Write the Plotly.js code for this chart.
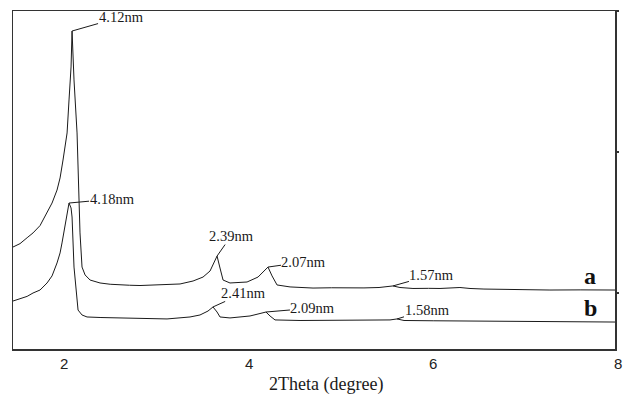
<!DOCTYPE html>
<html>
<head>
<meta charset="utf-8">
<script src="https://cdn.plot.ly/plotly-3.0.1.min.js"></script>
<style>html,body{margin:0;padding:0;background:#fff;}#chart{width:624px;height:403px;}</style>
</head>
<body>
<div id="chart"></div>
<script>
// 2Theta (degree) and intensity (a.u.) for sample a
const twoThetaA = [1.447,1.523,1.600,1.664,1.740,1.816,1.870,1.924,1.957,1.989,2.011,2.033,2.054,2.076,2.087,2.108,2.141,2.173,2.195,2.228,2.282,2.390,2.500,2.607,2.710,2.823,2.950,3.116,3.257,3.398,3.506,3.582,3.625,3.658,3.690,3.723,3.798,3.900,3.983,4.102,4.167,4.210,4.254,4.308,4.449,4.698,4.900,5.099,5.250,5.413,5.564,5.640,5.781,5.950,6.074,6.290,6.399,6.550,6.724,7.000,7.265,7.600,7.970];
const intensityA = [1326,1350,1392,1426,1478,1567,1638,1730,1816,1943,2028,2135,2369,2603,2858,2511,2135,1426,1184,1128,1092,1071,1062,1057,1055,1053,1056,1057,1064,1085,1113,1156,1220,1262,1177,1092,1071,1075,1078,1113,1156,1184,1121,1057,1043,1035,1037,1035,1036,1039,1050,1039,1032,1033,1032,1039,1032,1028,1025,1024,1021,1022,1021];
// sample b
const twoThetaB = [1.447,1.523,1.600,1.664,1.740,1.816,1.870,1.924,1.957,1.978,2.011,2.033,2.054,2.076,2.087,2.108,2.130,2.152,2.195,2.249,2.400,2.574,2.850,3.116,3.365,3.473,3.560,3.614,3.658,3.690,3.798,4.015,4.145,4.188,4.232,4.286,4.557,4.800,5.066,5.300,5.532,5.608,5.684,6.000,6.290,6.399,6.941,7.400,7.970];
const intensityB = [943,957,976,1000,1021,1071,1121,1213,1284,1355,1468,1567,1638,1603,1539,1184,1000,879,844,830,826,823,820,816,830,844,872,901,865,830,823,837,858,865,837,809,805,806,805,807,809,816,805,803,801,805,798,796,794];

const peakLabelsA = ["4.12nm","2.39nm","2.07nm","1.57nm"];
const peakPosA = [2.087,3.658,4.210,5.564];
const peakLabelsB = ["4.18nm","2.41nm","2.09nm","1.58nm"];
const peakPosB = [2.054,3.614,4.188,5.608];
const seriesNames = ["a","b"];
const xTicks = [2,4,6,8];

// label offsets (pixels) from each peak
const offA = [[49,-14],[14,-20],[36,-5],[39,-11]];
const offB = [[43,-4],[31,-14],[47,-4],[30,-9]];

function yAt(xs, ys, x){
  let best = 0, d = Infinity;
  xs.forEach((v,i)=>{ if(Math.abs(v-x)<d){d=Math.abs(v-x);best=i;} });
  return ys[best];
}

const xr = [1.447, 7.97];
const yr = [602.8, 3000];

const lineStyle = {color:'#1a1a1a', width:1};
const traces = [
  {x:twoThetaA, y:intensityA, mode:'lines', line:lineStyle, name:seriesNames[0], hoverinfo:'skip'},
  {x:twoThetaB, y:intensityB, mode:'lines', line:lineStyle, name:seriesNames[1], hoverinfo:'skip'},
  // carrier for the right-hand axis (invisible)
  {x:twoThetaA, y:intensityA, yaxis:'y2', mode:'lines', line:{width:0, color:'rgba(0,0,0,0)'}, opacity:0, hoverinfo:'skip', showlegend:false}
];

const labelFont = {family:'"Liberation Serif", "Times New Roman", serif', size:14.5, color:'#1a1a1a'};
const annotations = [];
function addPeaks(labels, pos, xs, ys, off){
  labels.forEach((t,i)=>{
    annotations.push({x:pos[i], y:yAt(xs,ys,pos[i]), xref:'x', yref:'y', text:t,
      showarrow:true, arrowhead:0, arrowwidth:1, arrowcolor:'#1a1a1a',
      ax:off[i][0], ay:off[i][1], font:labelFont, borderpad:0});
  });
}
addPeaks(peakLabelsA, peakPosA, twoThetaA, intensityA, offA);
addPeaks(peakLabelsB, peakPosB, twoThetaB, intensityB, offB);

const endA = intensityA[intensityA.length-1];
const endB = intensityB[intensityB.length-1];
const serFont = {family:'"Liberation Serif", "Times New Roman", serif', size:24, color:'#111'};
annotations.push({x:7.7, y:endA, xref:'x', yref:'y', text:'<b>'+seriesNames[0]+'</b>', showarrow:false, font:serFont, yshift:14});
annotations.push({x:7.7, y:endB, xref:'x', yref:'y', text:'<b>'+seriesNames[1]+'</b>', showarrow:false, font:serFont, yshift:14});
annotations.push({x:0.52, y:-0.1065, xref:'paper', yref:'paper', xanchor:'center', yanchor:'middle', text:'2Theta (degree)', showarrow:false,
  font:{family:'"Liberation Serif", "Times New Roman", serif', size:18, color:'#1a1a1a'}});

const tickFont = {family:'"Liberation Sans", Arial, sans-serif', size:15, color:'#222'};
// tick labels (drawn as paper-positioned annotations so the end label "8" can sit at the frame edge)
xTicks.forEach(v=>{
  annotations.push({x:(v - xr[0])/(xr[1]-xr[0]), y:0, xref:'paper', yref:'paper', xanchor:'center', yanchor:'middle', yshift:-14,
    text:String(v), showarrow:false, font:tickFont});
});

const layout = {
  width:624, height:403,
  margin:{l:13, r:9, t:11, b:54, pad:0},
  paper_bgcolor:'#fff', plot_bgcolor:'#fff',
  showlegend:false,
  xaxis:{range:xr, showticklabels:false, ticks:'', showgrid:false, zeroline:false,
    showline:true, linecolor:'#333', linewidth:1.5, mirror:true},
  yaxis:{range:yr, showticklabels:false, ticks:'', showgrid:false, zeroline:false, showline:true, linecolor:'#333', linewidth:1.5},
  yaxis2:{range:yr, overlaying:'y', side:'right', showticklabels:false, tickvals:[1000,2000,3000], ticks:'outside', ticklen:2, tickwidth:2, tickcolor:'#333',
    showgrid:false, zeroline:false, showline:true, linecolor:'#333', linewidth:1.5},
  annotations:annotations
};
Plotly.newPlot('chart', traces, layout, {staticPlot:true});
</script>
</body>
</html>
